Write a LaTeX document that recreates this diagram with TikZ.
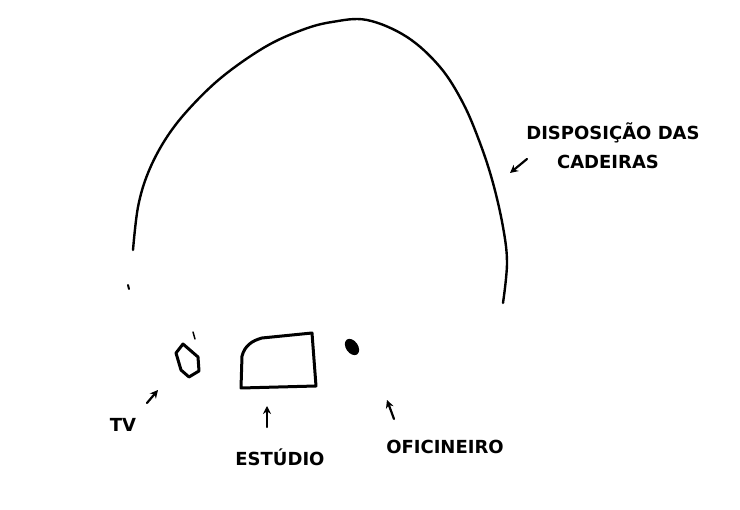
\documentclass[tikz,border=0pt]{standalone}
\usepackage{fontspec}
\setmainfont{DejaVu Sans}
\usetikzlibrary{arrows.meta}
\tikzset{
  rotulo/.style={font=\bfseries\fontsize{18}{21}\selectfont,inner sep=0pt},
  seta/.style={->,line width=2.2pt},
}
\begin{document}
\begin{tikzpicture}[>={Stealth[length=8pt,width=8pt]},x=1pt,y=-1pt,line width=3pt,line cap=round,line join=round]
	\useasboundingbox (0,0) rectangle (740,510);
	% cadeiras
	\draw[line width=2.4pt] plot[smooth,tension=0.6] coordinates {(133,250) (138,207) (148,173) (165,140) (188,110) (222,77) (265,47) (302,30) (332,22) (367,20) (407,37) (440,67) (463,103) (480,143) (493,183) (503,227) (507,263) (503,303)};
	\draw[line width=2pt] (128,285) -- (129,289);
	% tv
	\draw (183,344) -- (176,353) -- (181,370) -- (189,377) -- (199,371) -- (198,357) -- cycle;
	\draw[line width=1.5pt] (193,332) -- (195,339);
	% estudio
	\draw (241,388) -- (242,356) to[out=75,in=195] (262,338) -- (312,333) -- (316,386) -- cycle;
	% oficineiro
	\fill (352,347) ellipse[x radius=9,y radius=6,rotate=-55];
	% textos
	\node[rotulo] (tv) at (123,425) {TV};
	\node[rotulo] (estudio) at (280,457) {ESTÚDIO};
	\node[rotulo] (oficineiro) at (445,447) {OFICINEIRO};
	\node[rotulo] (disp) at (613,133) {DISPOSIÇÃO DAS};
	\node[rotulo] (cad) at (608,162) {CADEIRAS};
	% setas
	\coordinate (tvA) at (147,403);
	\coordinate (tvB) at (158,390);
	\coordinate (estA) at (267,427);
	\coordinate (estB) at (267,406);
	\coordinate (ofA) at (394,419);
	\coordinate (ofB) at (387,400);
	\coordinate (cadA) at (527,159);
	\coordinate (cadB) at (510,173);
	\draw[seta] (tvA) -- (tvB);
	\draw[seta] (estA) -- (estB);
	\draw[seta] (ofA) -- (ofB);
	\draw[seta] (cadA) -- (cadB);
\end{tikzpicture}
\end{document}
